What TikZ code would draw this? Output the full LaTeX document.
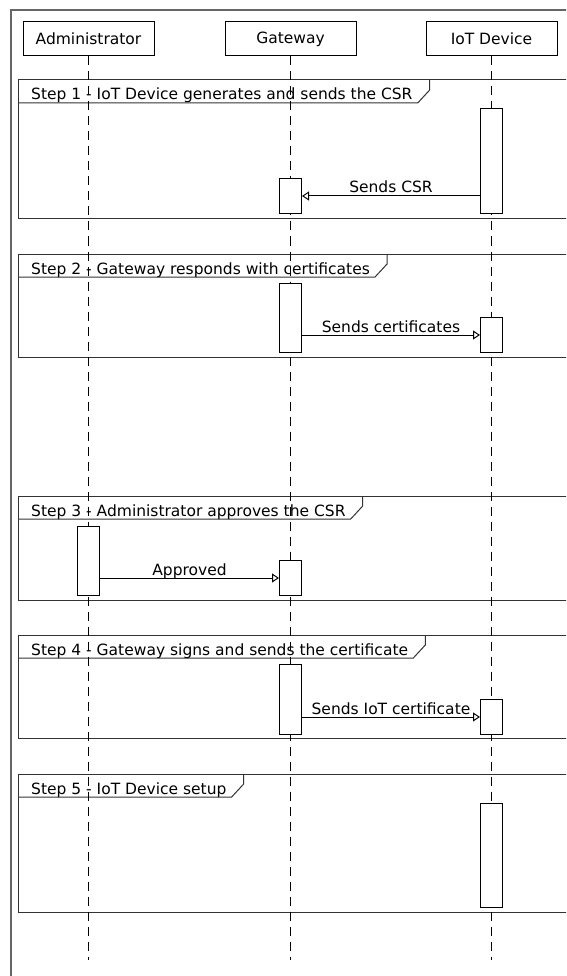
\documentclass[tikz,border=0pt]{standalone}
\usepackage{fontspec}
\setmainfont{DejaVu Sans}
\usetikzlibrary{arrows.meta,calc}
\newcommand\stepfr[4]{%
  \node[ttl] (#1) at (31,#2+20) {#4};
  \coordinate (#1r) at ([xshift=17pt]#1.east);
  \coordinate (#1b) at (0,#2+23);
  \coordinate (#1t) at (0,#2);
  \draw[frm] (18,#2) rectangle (600,#3);
  \draw[frm] (18,#2+23) -- ($(#1r |- #1b)+(-12,0)$) -- ($(#1r |- #1b)+(0,-13)$) -- (#1r |- #1t);
}
\begin{document}
\begin{tikzpicture}[x=1pt,y=-1pt,
  font=\fontsize{15.5}{18}\selectfont,
  actor/.style={draw, line width=1pt, minimum width=131pt, minimum height=34pt, inner sep=0pt},
  life/.style={line width=1pt, dash pattern=on 9pt off 6pt},
  act/.style={draw, fill=white, line width=1pt, minimum width=22pt, inner sep=0pt},
  msg/.style={line width=1pt, -{Triangle[open,length=7pt,width=9pt]}},
  frm/.style={line width=1pt, black!80},
  lbl/.style={anchor=base, inner sep=0pt, yshift=3pt},
  ttl/.style={anchor=base west, inner sep=0pt}]
\useasboundingbox (0,0) rectangle (566,976);
\clip (0,0) rectangle (566,976);
\fill[white] (0,0) rectangle (566,976);
\draw[line width=1.6pt, black!60] (11,1000) -- (11,10) -- (600,10);
% participants
\node[actor] (adm) at (88.5,39) {Administrator};
\node[actor] (gw) at (290.5,39) {Gateway};
\node[actor] (iot) at (491.5,39) {IoT Device};
\coordinate (admend) at (88.5,960);
\coordinate (gwend) at (290.5,960);
\coordinate (iotend) at (491.5,960);
% frames
\stepfr{s1}{80}{219}{Step 1 - IoT Device generates and sends the CSR}
\stepfr{s2}{254}{357}{Step 2 - Gateway responds with certificates}
\stepfr{s3}{496}{600}{Step 3 - Administrator approves the CSR}
\stepfr{s4}{635}{738}{Step 4 - Gateway signs and sends the certificate}
\stepfr{s5}{774}{912}{Step 5 - IoT Device setup}
% lifelines
\draw[life] (adm.south) -- (admend);
\draw[life] (gw.south) -- (gwend);
\draw[life] (iot.south) -- (iotend);
% step 1
\node[act, anchor=north, minimum height=105pt] (a1i) at (491.5,108) {};
\node[act, anchor=north, minimum height=35pt] (a1g) at (290.5,178) {};
\coordinate (m1) at (0,196);
\draw[msg] (a1i.west |- m1) -- (a1g.east |- m1) node[lbl, midway] {Sends CSR};
% step 2
\node[act, anchor=north, minimum height=69pt] (a2g) at (290.5,283) {};
\node[act, anchor=north, minimum height=35pt] (a2i) at (491.5,317) {};
\coordinate (m2) at (0,335);
\draw[msg] (a2g.east |- m2) -- (a2i.west |- m2) node[lbl, midway] {Sends certificates};
% step 3
\node[act, anchor=north, minimum height=69pt] (a3a) at (88.5,526) {};
\node[act, anchor=north, minimum height=35pt] (a3g) at (290.5,560) {};
\coordinate (m3) at (0,578);
\draw[msg] (a3a.east |- m3) -- (a3g.west |- m3) node[lbl, midway] {Approved};
% step 4
\node[act, anchor=north, minimum height=70pt] (a4g) at (290.5,664) {};
\node[act, anchor=north, minimum height=35pt] (a4i) at (491.5,699) {};
\coordinate (m4) at (0,717);
\draw[msg] (a4g.east |- m4) -- (a4i.west |- m4) node[lbl, midway] {Sends IoT certificate};
% step 5
\node[act, anchor=north, minimum height=104pt] (a5i) at (491.5,803) {};
\end{tikzpicture}
\end{document}
